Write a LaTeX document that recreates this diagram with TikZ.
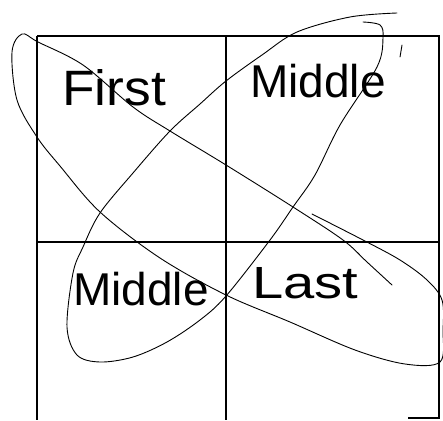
\documentclass[tikz,border=0pt]{standalone}
\usepackage{fontspec}
\setmainfont{Liberation Sans}
\usepackage{tikz}
\usetikzlibrary{positioning,calc}

\begin{document}
\begin{tikzpicture}[
    x=1pt, y=-1pt,
    gridline/.style={line width=1.3pt, black},
    loopline/.style={line width=0.9pt, black, line cap=round, line join=round},
    word/.style={anchor=base west, inner sep=0pt, font=\fontsize{46}{46}\selectfont}
]
\useasboundingbox (0,0) rectangle (443,420);
% grid
\coordinate (TL) at (37,36);
\coordinate (TR) at (439,36);
\coordinate (ML) at (37,242);
\coordinate (MR) at (439,242);
\coordinate (TM) at (226,36);
\coordinate (BL) at (37,420);
\coordinate (BM) at (226,420);
\coordinate (BR) at (439,418);
\coordinate (BS) at (408,418);
\draw[gridline] (TL) -- (TR) -- (BR) -- (BS);
\draw[gridline] (TL) -- (BL);
\draw[gridline] (TM) -- (BM);
\draw[gridline] (ML) -- (MR);
% labels
\node[word] (first) at (62,105) {\scalebox{1.16}[1.08]{First}};
\node[word] (midtop) at (250,97) {Middle};
\node[word] (midbot) at (73,305) {Middle};
\node[word] (last) at (252,298) {\scalebox{1.22}[0.98]{Last}};
% loop from First to Last
\draw[loopline] plot[smooth, tension=0.55] coordinates {
    (392,285) (367,262) (343,240) (293,207) (226,165) (170,131) (133,107) (83,65)
    (38,42) (22,34) (12,52) (17,100) (37,137) (60,166) (100,212)
    (160,258) (226,295) (290,322) (355,350) (405,364) (440,362)
    (443,330) (442,300) (427,280) (400,260) (363,240) (312,214)};
% loop through both Middles
\draw[loopline] plot[smooth, tension=0.55] coordinates {
    (363,22) (380,25) (383,38) (377,67) (340,125) (315,175) (293,207)
    (270,240) (226,296) (200,320) (167,342) (133,357) (100,362)
    (77,355) (67,327) (73,273) (83,247) (100,213) (133,173) (170,131)
    (200,104) (226,81) (262,55) (297,32) (350,17) (397,13)};
\draw[loopline] (402,45) -- (400,57);
\end{tikzpicture}
\end{document}
